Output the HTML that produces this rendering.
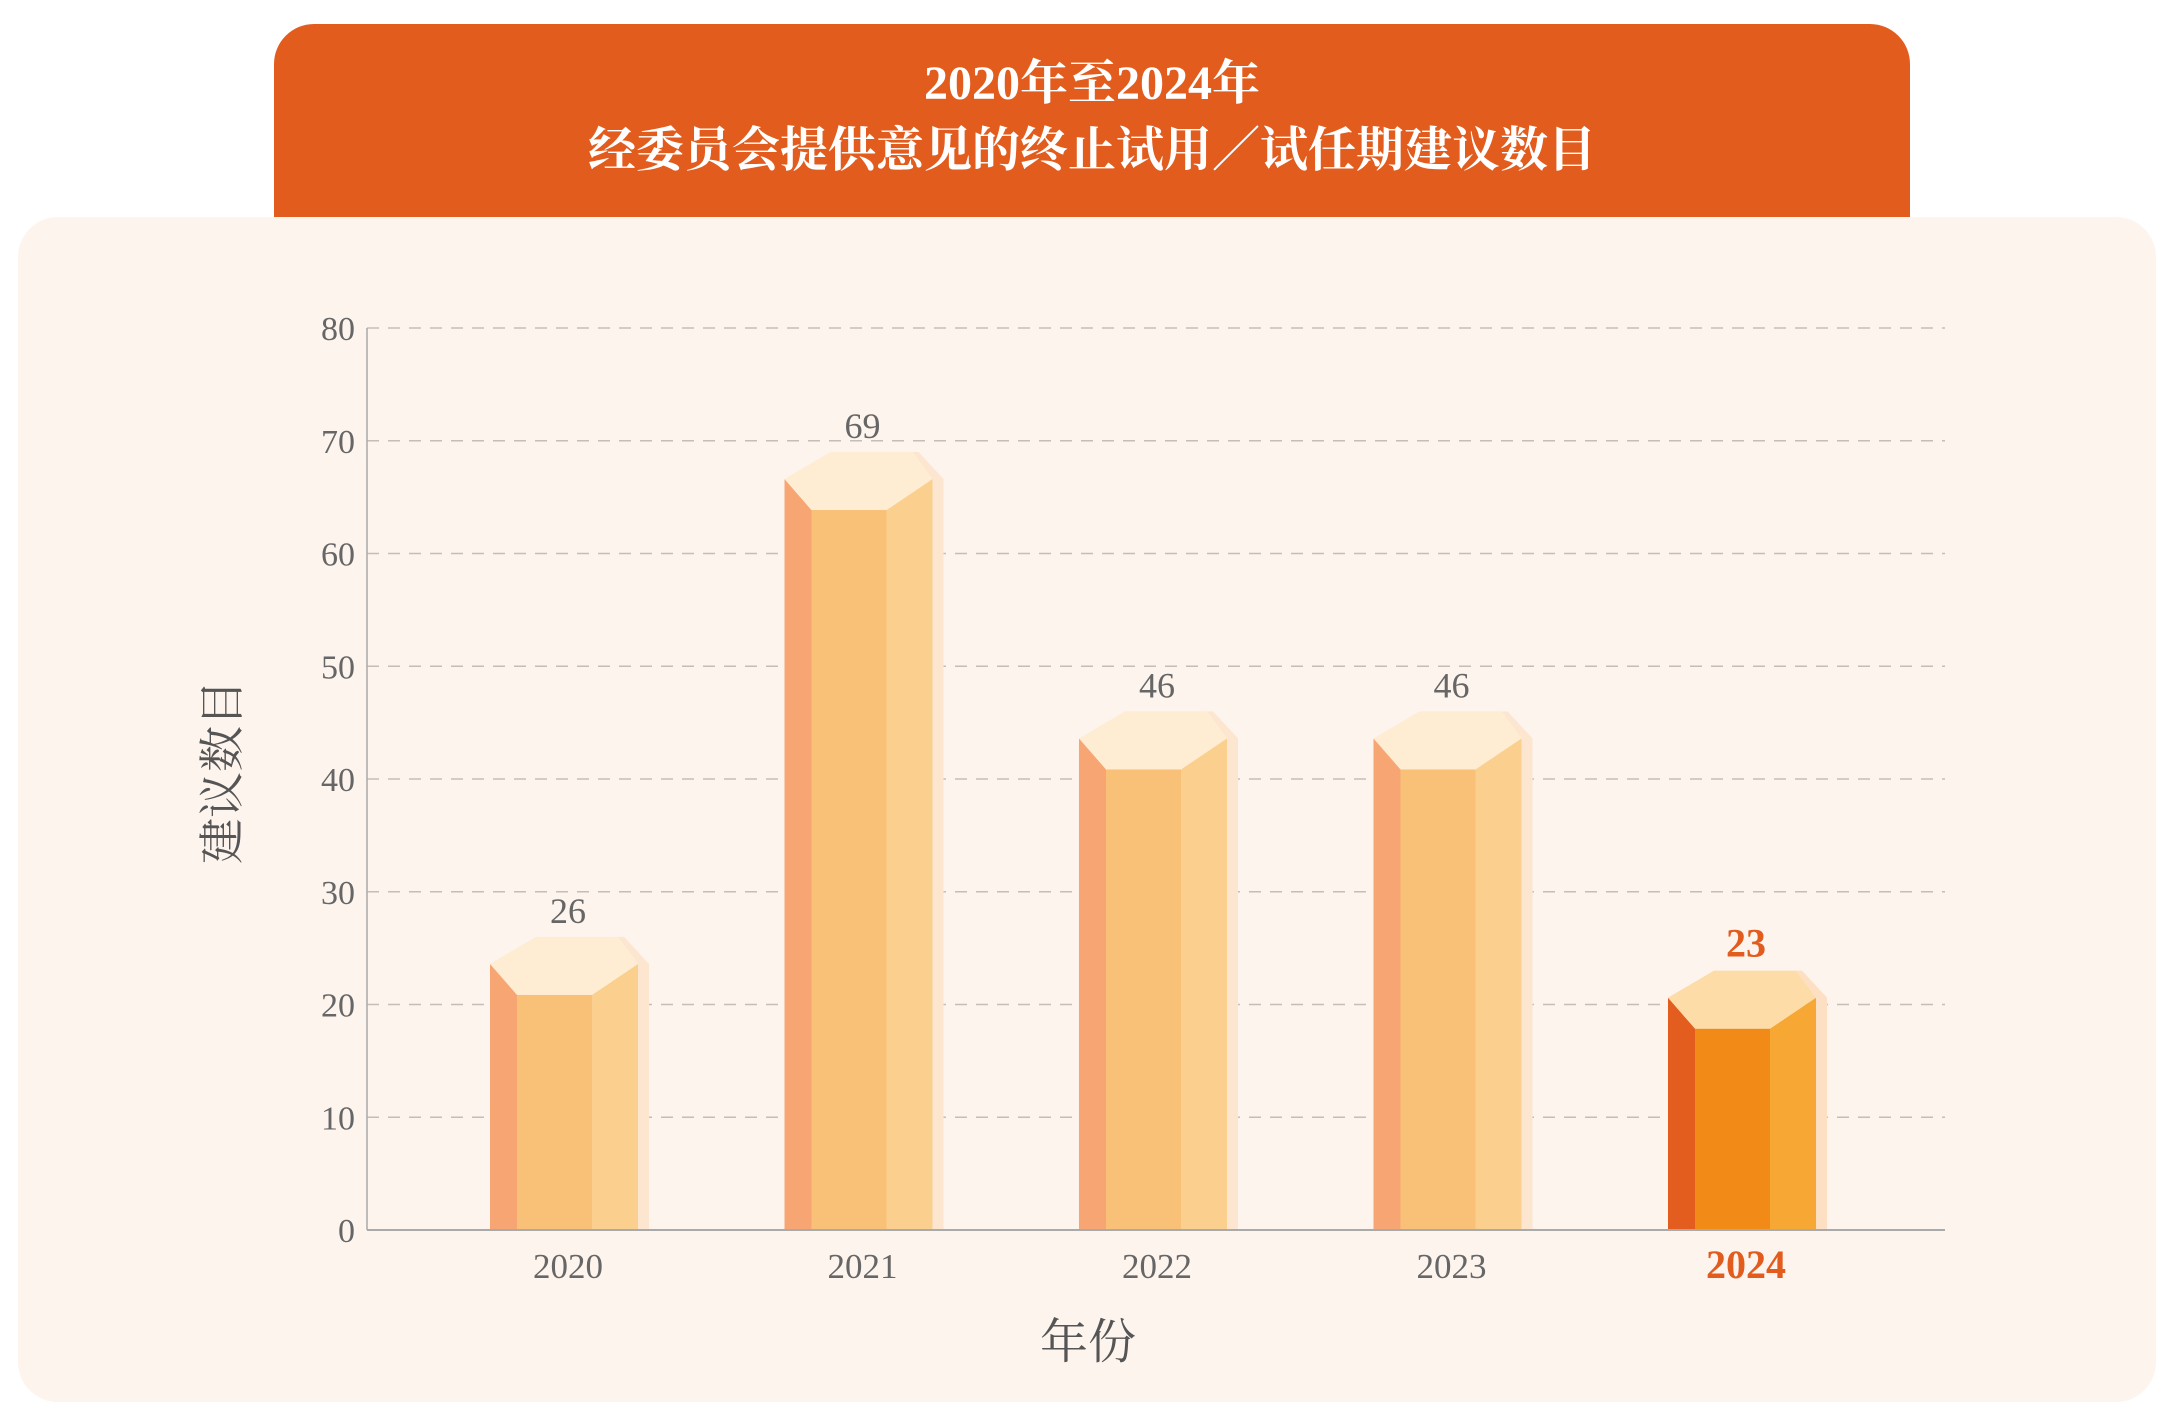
<!DOCTYPE html>
<html><head><meta charset="utf-8"><style>
html,body{margin:0;padding:0;background:#fff;}
svg{display:block;}
</style></head><body>
<svg id="chart" width="2170" height="1416" viewBox="0 0 2170 1416" xmlns="http://www.w3.org/2000/svg" font-family="'Liberation Serif','Noto Serif CJK SC',serif">
<rect x="274" y="24" width="1636" height="240" rx="40" fill="#E25C1E"/>
<rect x="18" y="217" width="2138" height="1185" rx="40" fill="#FDF4EE"/>
<text x="1092" y="99" text-anchor="middle" font-size="48" font-weight="bold" fill="#fff">2020年至2024年</text>
<text x="1092" y="166" text-anchor="middle" font-size="48" font-weight="bold" fill="#fff">经委员会提供意见的终止试用／试任期建议数目</text>
<g id="grid"></g>
<g id="bars"></g>
<line x1="367" y1="328" x2="367" y2="1230" stroke="#aaa" stroke-width="1.5"/>
<line x1="367" y1="1230" x2="1945" y2="1230" stroke="#aaa" stroke-width="2"/>
<text transform="translate(238,772) rotate(-90)" text-anchor="middle" font-size="46" fill="#555">建议数目</text>
<text x="1088" y="1358" text-anchor="middle" font-size="48" fill="#555">年份</text>
</svg>
<script>
const categories = ["2020","2021","2022","2023","2024"];
const values = [26, 69, 46, 46, 23];
const yTicks = [0,10,20,30,40,50,60,70,80];
const highlightIndex = 4;

const NS = "http://www.w3.org/2000/svg";
const x0 = 367, x1 = 1945, yBase = 1230, yMax = 80, yTopPx = 328;
function yScale(v){ return yBase - (v / yMax) * (yBase - yTopPx); }
function xScale(i){ return 568 + i * 294.5; }
function mk(tag, attrs, parent){
  const e = document.createElementNS(NS, tag);
  for (const k in attrs) e.setAttribute(k, attrs[k]);
  parent.appendChild(e);
  return e;
}
const grid = document.getElementById('grid');
yTicks.forEach(t => {
  const y = yScale(t);
  if (t > 0) {
    const l = mk('line', {x1: x0, y1: y, x2: x1, y2: y, stroke: '#c4bdb8', 'stroke-width': 1.5, 'stroke-dasharray': '12 9'}, grid);
    
    
  }
  const tx = mk('text', {x: 355, y: y + 12, 'text-anchor': 'end', 'font-size': 34, fill: '#666'}, grid);
  tx.textContent = t;
  
  
});
const bars = document.getElementById('bars');
categories.forEach((c, i) => {
  const cx = xScale(i);
  const top = yScale(values[i]);
  const hi = i === highlightIndex;
  const col = hi ? {l:'#E35D1E', f:'#F28A17', r:'#F7A733', t:'#FDDCA7', s:'#FDDFC3'}
                 : {l:'#F7A673', f:'#F9C077', r:'#FBD08F', t:'#FEECD3', s:'#FDE6D0'};
  const g = mk('g', {}, bars);
  
  
  const L = cx - 78, FL = cx - 51, FR = cx + 24, R = cx + 70, BL = cx - 32, BR = cx + 50, S = cx + 81;
  const vy = top + 27, fy = top + 58;
  mk('polygon', {points: `${BR},${top} ${BR+6},${top} ${S},${vy} ${S},${yBase} ${R},${yBase} ${R},${vy}`, fill: col.s}, g);
  mk('polygon', {points: `${L},${vy} ${FL},${fy} ${FL},${yBase} ${L},${yBase}`, fill: col.l}, g);
  mk('rect', {x: FL, y: fy, width: FR - FL, height: yBase - fy, fill: col.f}, g);
  mk('polygon', {points: `${FR},${fy} ${R},${vy} ${R},${yBase} ${FR},${yBase}`, fill: col.r}, g);
  mk('polygon', {points: `${L},${vy} ${BL},${top} ${BR},${top} ${R},${vy} ${FR},${fy} ${FL},${fy}`, fill: col.t}, g);
  const vl = mk('text', {x: cx, y: top - 14, 'text-anchor': 'middle', 'font-size': hi ? 40 : 36, 'font-weight': hi ? 'bold' : 'normal', fill: hi ? '#E25C1E' : '#666'}, bars);
  vl.textContent = values[i];
  
  
  const xl = mk('text', {x: cx, y: 1278, 'text-anchor': 'middle', 'font-size': hi ? 40 : 35, 'font-weight': hi ? 'bold' : 'normal', fill: hi ? '#E25C1E' : '#666'}, bars);
  xl.textContent = c;
  
  
});
</script>
</body></html>
